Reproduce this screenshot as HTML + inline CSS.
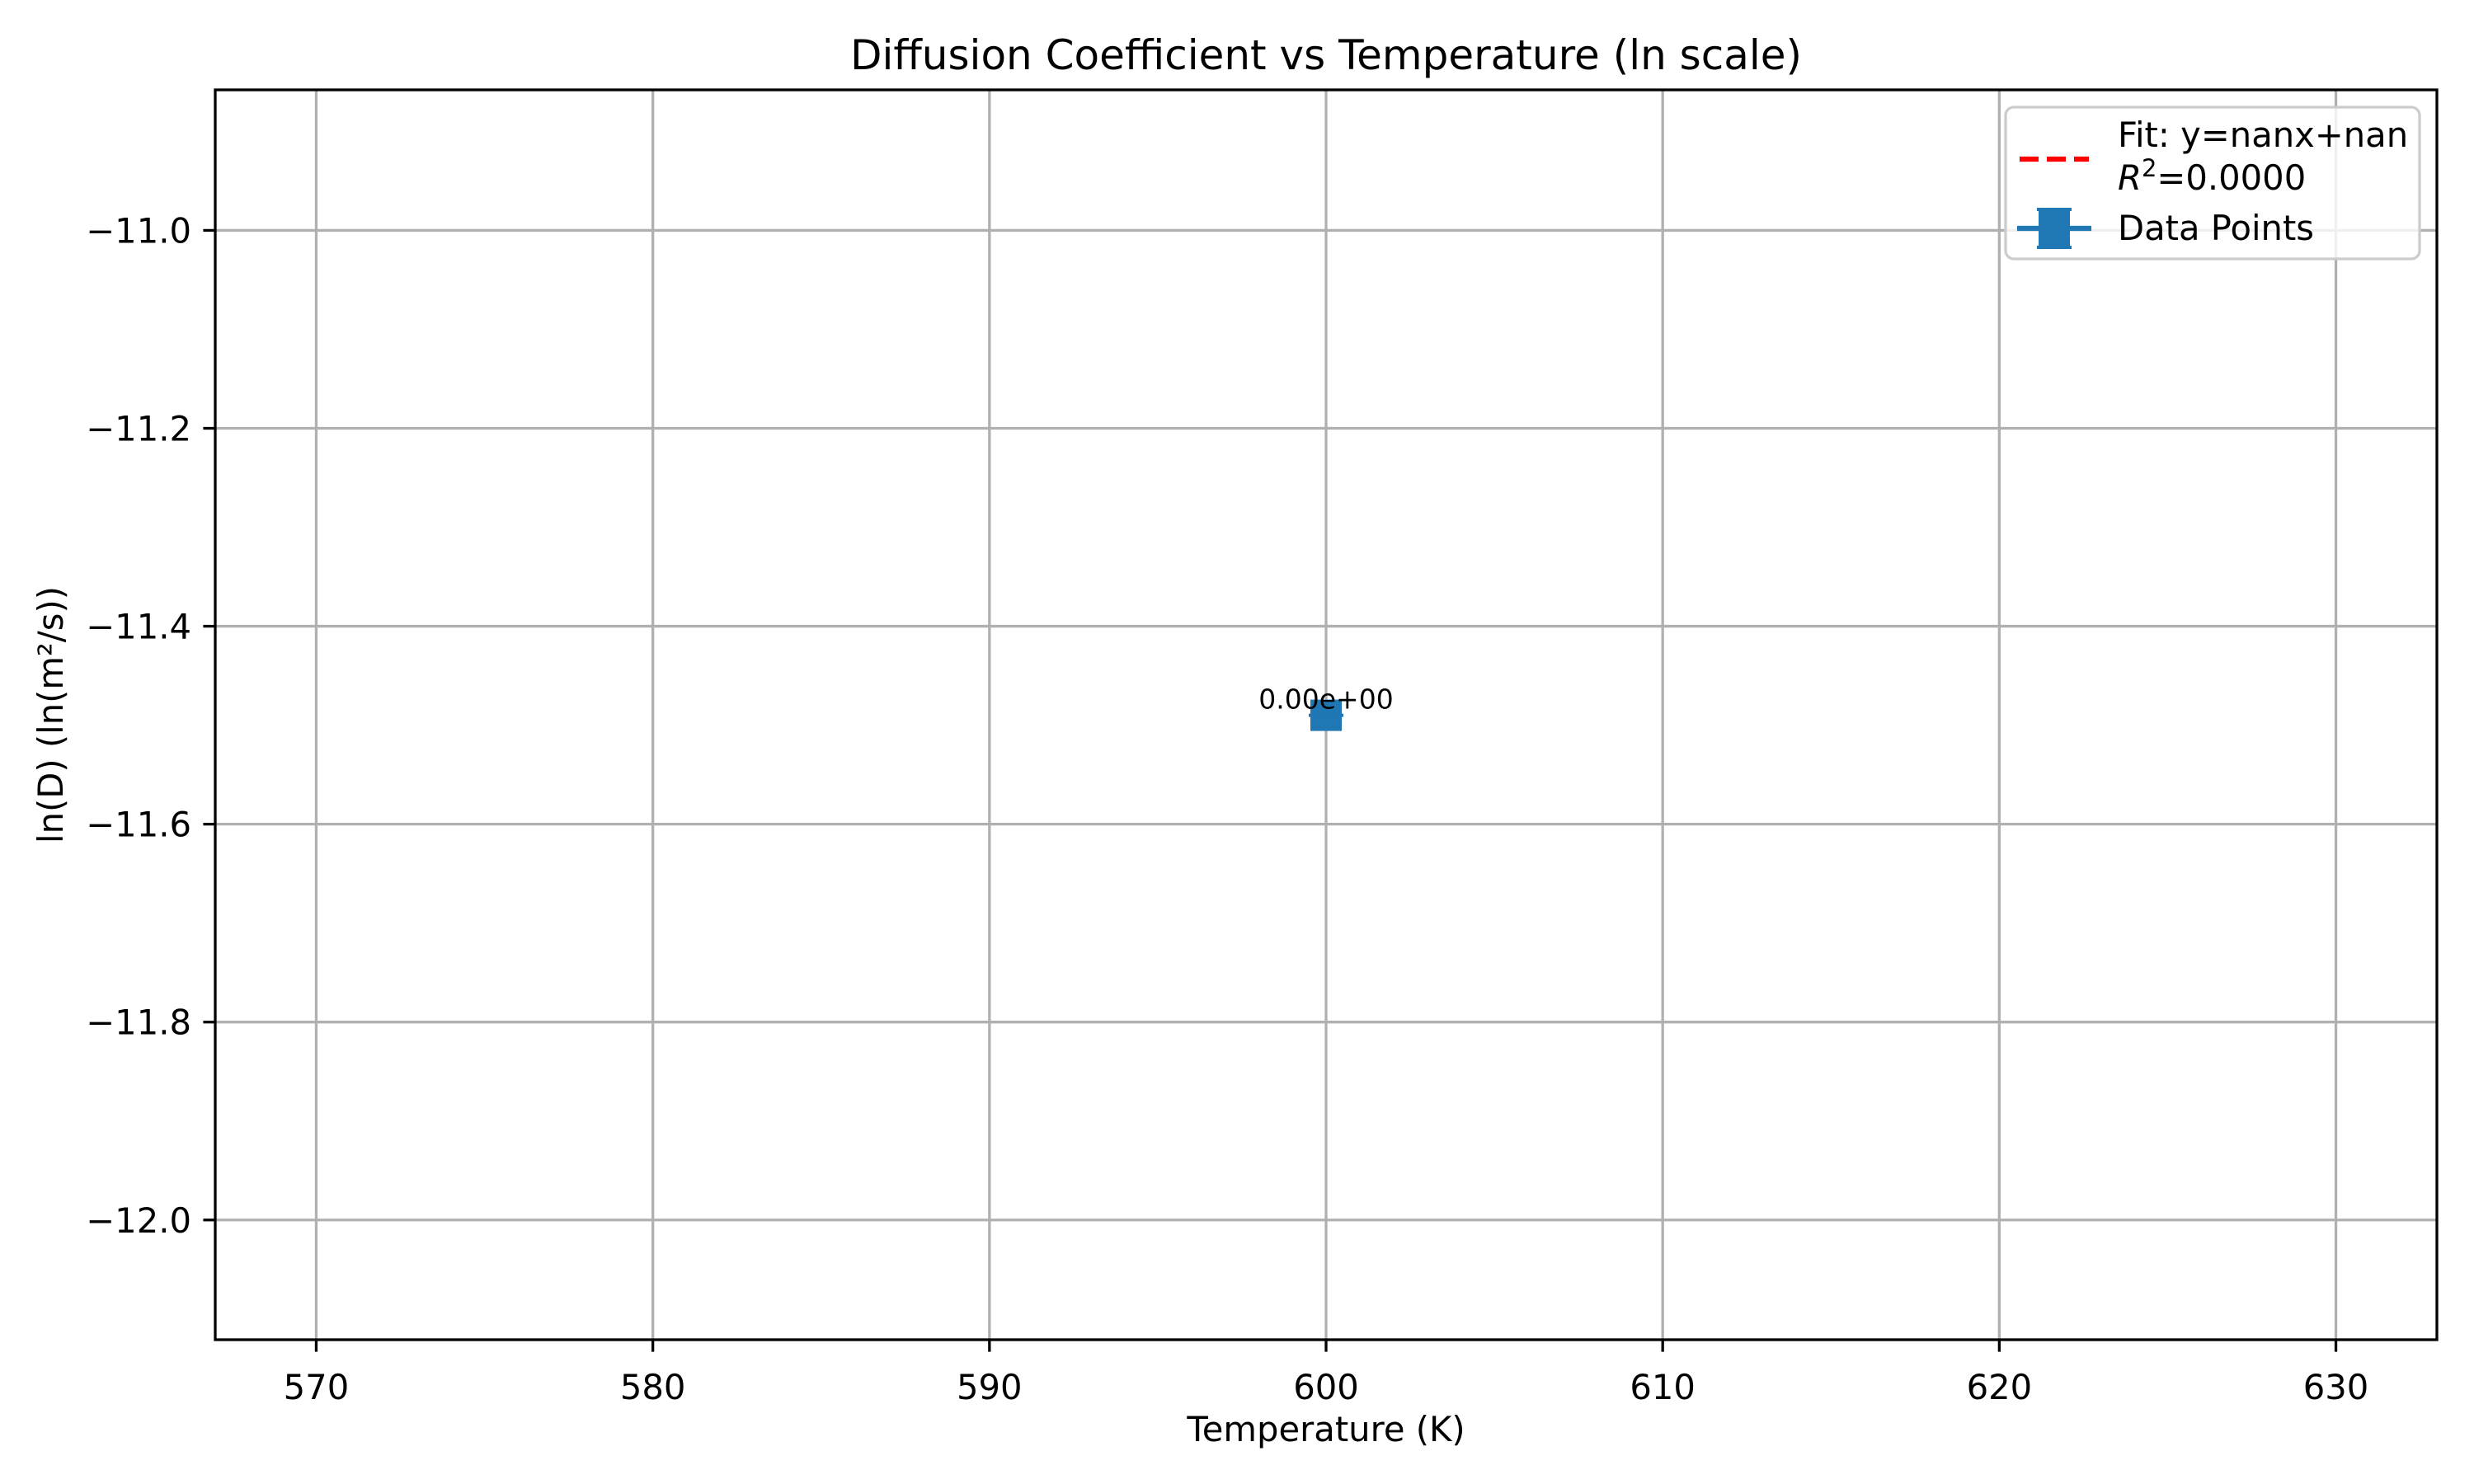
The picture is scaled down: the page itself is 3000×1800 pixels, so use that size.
<!DOCTYPE html>
<html><head><meta charset="utf-8"><style>
html,body{margin:0;padding:0;background:#fff;}
svg{display:block;font-family:"DejaVu Sans","Liberation Sans",sans-serif;}
</style></head><body>
<svg id="chart" width="3000" height="1800" viewBox="0 0 3000 1800" xmlns="http://www.w3.org/2000/svg">
<rect width="3000" height="1800" fill="#fff"/>
<g id="grid"></g>
<g id="marks"></g>
<g id="axes"></g>
<text x="1608" y="84" font-size="50" text-anchor="middle">Diffusion Coefficient vs Temperature (ln scale)</text>
<text x="1608" y="1748" font-size="41.7" text-anchor="middle">Temperature (K)</text>
<text transform="translate(76,867) rotate(-90)" font-size="41.7" text-anchor="middle">ln(D) (ln(m²/s))</text>
<g>
<rect x="2432" y="130" width="502" height="184" rx="10" fill="#fff" fill-opacity="0.8" stroke="#cccccc" stroke-width="3.3"/>
<line x1="2449" y1="193" x2="2533" y2="193" stroke="#ff0000" stroke-width="6.25" stroke-dasharray="23,10"/>
<text x="2568" y="178" font-size="41.7">Fit: y=nanx+nan</text>
<text x="2568" y="230" font-size="41.7"><tspan font-style="italic">R</tspan><tspan dy="-16" font-size="29">2</tspan><tspan dy="16">=0.0000</tspan></text>
<line x1="2446" y1="277" x2="2536" y2="277" stroke="#1f77b4" stroke-width="6.25"/>
<rect x="2472" y="255" width="38" height="44" fill="#1f77b4"/>
<line x1="2470" y1="254" x2="2512" y2="254" stroke="#1f77b4" stroke-width="4"/>
<line x1="2470" y1="300" x2="2512" y2="300" stroke="#1f77b4" stroke-width="4"/>
<text x="2568" y="291" font-size="41.7">Data Points</text>
</g>
</svg>
<script>
const xTicks = [570, 580, 590, 600, 610, 620, 630];
const yTicks = [-11.0, -11.2, -11.4, -11.6, -11.8, -12.0];
const xLabels = ["570", "580", "590", "600", "610", "620", "630"];
const yLabels = ["\u221211.0", "\u221211.2", "\u221211.4", "\u221211.6", "\u221211.8", "\u221212.0"];
const temps = [600];
const lnD = [-11.49];
const annotations = ["0.00e+00"];

const L = 261, R = 2955, T = 109, B = 1625;
const xMin = 567, xMax = 633, yMin = -12.121, yMax = -10.858;
function sx(v){ return L + (v - xMin) / (xMax - xMin) * (R - L); }
function sy(v){ return B - (v - yMin) / (yMax - yMin) * (B - T); }
const NS = "http://www.w3.org/2000/svg";
function mk(tag, attrs, parent){
  const e = document.createElementNS(NS, tag);
  for (const k in attrs) e.setAttribute(k, attrs[k]);
  parent.appendChild(e); return e;
}
const grid = document.getElementById('grid');
const axes = document.getElementById('axes');
const marks = document.getElementById('marks');

xTicks.forEach((v, i) => {
  const x = sx(v);
  const g = mk('line', {x1:x, y1:T, x2:x, y2:B, stroke:'#b0b0b0', 'stroke-width':3.3}, grid);
  
  
  const t = mk('line', {x1:x, y1:B, x2:x, y2:B+14.6, stroke:'#000', 'stroke-width':3.3}, axes);
  
  
  const lb = mk('text', {x:x, y:1697, 'font-size':41.7, 'text-anchor':'middle'}, axes);
  lb.textContent = xLabels[i];
  
  
});
yTicks.forEach((v, i) => {
  const y = sy(v);
  const g = mk('line', {x1:L, y1:y, x2:R, y2:y, stroke:'#b0b0b0', 'stroke-width':3.3}, grid);
  
  
  const t = mk('line', {x1:L-14.6, y1:y, x2:L, y2:y, stroke:'#000', 'stroke-width':3.3}, axes);
  
  
  const lb = mk('text', {x:L-29, y:y+15, 'font-size':41.7, 'text-anchor':'end'}, axes);
  lb.textContent = yLabels[i];
  
  
});
const frame = mk('rect', {x:L, y:T, width:R-L, height:B-T, fill:'none', stroke:'#000', 'stroke-width':3.3}, axes);



temps.forEach((t, i) => {
  const cx = sx(t), cy = sy(lnD[i]);
  const m = mk('rect', {x:cx-19, y:cy-19, width:38, height:38, fill:'#1f77b4'}, marks);
  
  
  const cap = mk('line', {x1:cx-21, y1:cy, x2:cx+21, y2:cy, stroke:'#1f77b4', 'stroke-width':4}, marks);
  
  
  const a = mk('text', {x:cx, y:cy-8, 'font-size':33, 'text-anchor':'middle'}, marks);
  a.textContent = annotations[i];
  
  
});
</script>
</body></html>
